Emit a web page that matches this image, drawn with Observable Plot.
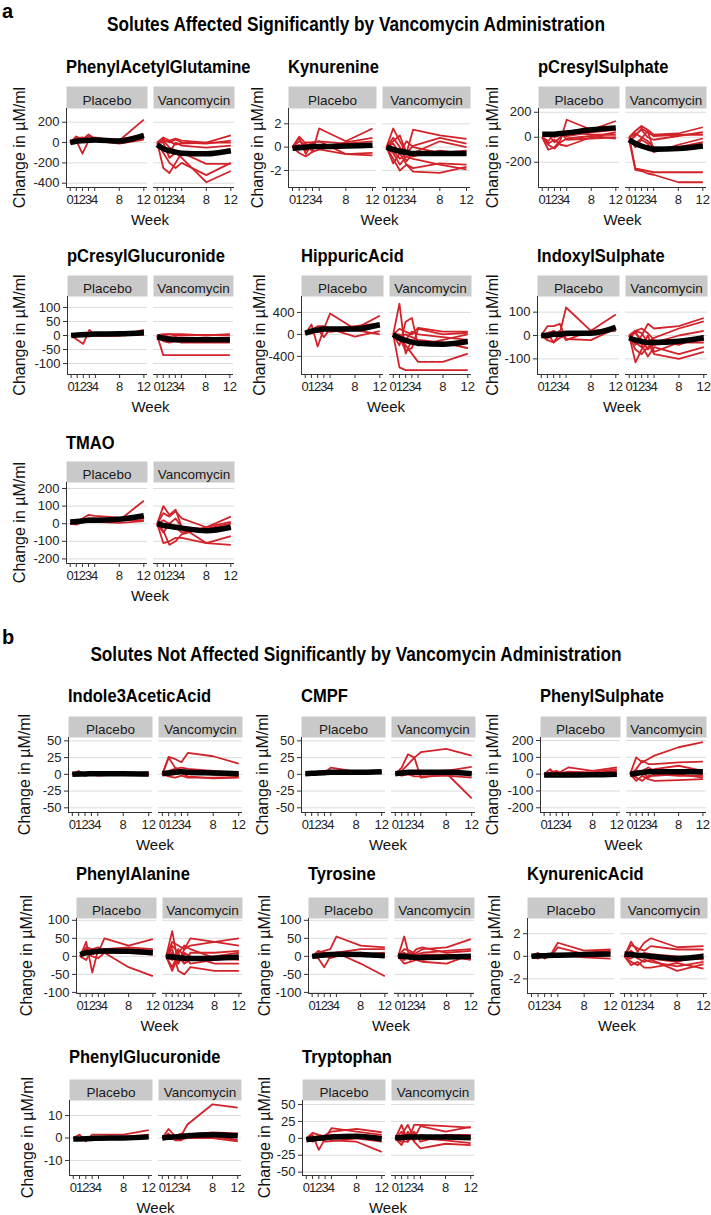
<!DOCTYPE html>
<html>
<head>
<meta charset="utf-8">
<script src="https://cdn.jsdelivr.net/npm/d3@7"></script>
<script src="https://cdn.jsdelivr.net/npm/@observablehq/plot@0.6"></script>
<style>
  body { margin: 0; background: #fff; }
  #page { position: relative; width: 711px; height: 1215px; overflow: hidden; background: #fff; }
  #page svg.panel { position: absolute; display: block; overflow: visible; }
  #overlay { position: absolute; left: 0; top: 0; pointer-events: none; }
</style>
</head>
<body>
<div id="page"></div>
<script>
// ---------------- DATA ----------------
const weeks = [0, 1, 2, 3, 4, 8, 12];
const groups = ["Placebo", "Vancomycin"];

const phenylAcetylGlutamine = {
  placebo: [
    [0, 60, 30, 80, 40, 20, 225],
    [0, 20, -110, 20, 50, 10, 40],
    [0, 40, 50, 30, 30, 0, 60],
    [0, 10, 20, 10, 20, -10, 30],
    [0, 30, 10, 60, 40, 30, 80]
  ],
  vancomycin: [
    [0, 50, 20, 40, 20, 0, 70],
    [-20, 30, 0, 30, 0, -10, 20],
    [0, -250, -300, -200, -100, -120, -80],
    [0, -100, -200, -250, -200, -320, -200],
    [0, 0, -150, -100, -150, -390, -280],
    [-10, 20, -50, -80, -100, -210, -210],
    [0, -50, -100, 0, -30, -50, -30],
    [0, 20, 10, -20, -10, 0, 0]
  ],
  meanPlacebo: [0, 12, 18, 22, 25, 15, 70],
  meanVancomycin: [-20, -60, -80, -95, -105, -110, -80]
};

const kynurenine = {
  placebo: [
    [0, 0.9, 0.3, -0.4, 1.6, 0.5, 1.6],
    [0, 0.5, 0.2, 0.3, -0.2, 0.4, 0.8],
    [0, -0.5, -0.8, -0.4, -0.2, -0.6, -0.7],
    [0, -0.2, 0.4, 0.4, 0.5, 0.3, 0.5],
    [0, 0.8, -0.6, 0.4, 0.5, -0.6, -0.5],
    [0, 0.2, -0.3, 0.3, 0, 0.3, 0]
  ],
  vancomycin: [
    [0, 1.6, 0.5, -0.5, 1.5, 1.0, 0.7],
    [0, 0.5, 1.0, -0.5, 0.1, 0.8, 0.3],
    [0, -1.0, -2.0, -1.5, -2.1, -2.2, -1.7],
    [0, -0.5, -1.5, -0.8, -1.0, -1.5, -1.9],
    [0, 0.8, 0.0, -1.2, -0.5, 0.5, 0.0],
    [0, -1.4, -0.5, -1.5, -1.8, -1.4, -1.5],
    [0, 0.3, -0.5, 0.5, 0.0, -0.5, -0.3],
    [0, -0.3, -1.0, -0.6, -0.8, -0.3, -0.6]
  ],
  meanPlacebo: [-0.1, -0.05, 0, 0.05, 0.05, 0.1, 0.15],
  meanVancomycin: [0, -0.2, -0.35, -0.45, -0.55, -0.55, -0.55]
};

const pCresylSulphate = {
  placebo: [
    [0, -100, -80, -20, 140, 60, 130],
    [0, -50, -20, -60, -70, 0, 40],
    [0, 20, -40, 0, 50, 20, 20],
    [0, -30, 30, 40, -20, -10, 0],
    [0, 20, 0, 20, 10, 40, 60],
    [0, -60, -90, -40, -10, 10, -10]
  ],
  vancomycin: [
    [-20, -260, -270, -290, -300, -360, -360],
    [0, -250, -260, -270, -280, -280, -280],
    [0, 50, 90, 60, 20, 30, 80],
    [0, 20, 60, 0, -20, 10, 40],
    [0, -50, -10, 50, -100, -80, -40],
    [0, -80, -20, -50, -120, -60, -10],
    [0, 30, 0, -30, -80, -100, -60],
    [-30, 10, 70, 40, 10, 20, 20]
  ],
  meanPlacebo: [25, 25, 25, 30, 35, 60, 75],
  meanVancomycin: [-20, -50, -70, -85, -95, -90, -70]
};

const pCresylGlucuronide = {
  placebo: [
    [0, -15, -30, 20, 0, 0, 20],
    [0, 5, 0, 5, 5, 5, 10],
    [0, 0, 5, 0, 0, 0, 5],
    [5, 5, 10, 5, 5, 8, 15],
    [0, 5, 0, 5, 3, 2, 3]
  ],
  vancomycin: [
    [0, -70, -70, -70, -70, -70, -70],
    [0, -20, -25, -20, -25, -25, -25],
    [0, 5, 5, 5, 5, 0, 5],
    [0, 0, -5, -10, -10, -10, -10],
    [-5, -10, -20, -15, -20, -15, -20],
    [0, 0, 5, 0, 0, 2, 0],
    [0, -15, -10, -5, -15, -20, -15]
  ],
  meanPlacebo: [0, 2, 3, 4, 5, 6, 10],
  meanVancomycin: [-5, -10, -13, -15, -15, -15, -15]
};

const hippuricAcid = {
  placebo: [
    [0, 180, -220, 100, 380, 100, 340],
    [0, 60, 100, -50, 100, 150, 200],
    [0, 80, 150, 150, 100, -40, 60],
    [0, 20, 50, 80, 50, 80, 0],
    [0, 50, 80, 100, 50, 100, 150]
  ],
  vancomycin: [
    [0, 560, -350, -100, -200, -150, -250],
    [0, -600, -650, -650, -650, -650, -650],
    [0, -200, 230, 300, -200, -100, 0],
    [0, -100, -200, -350, -500, -500, -350],
    [0, 100, 50, 0, 120, 50, 50],
    [0, 0, -100, 50, 0, -50, -100],
    [0, -50, -300, -250, 100, 0, 30],
    [0, -30, 0, -50, -100, -150, -250]
  ],
  meanPlacebo: [20, 60, 80, 100, 100, 100, 175],
  meanVancomycin: [0, -70, -110, -140, -160, -180, -130]
};

const indoxylSulphate = {
  placebo: [
    [0, 40, 40, 50, -15, -20, 30],
    [0, -20, -30, 10, 120, 20, 90],
    [0, 10, -30, -10, 0, 10, 20],
    [0, -10, 0, 20, -20, 20, 30],
    [0, 10, 20, 0, 10, 15, 25]
  ],
  vancomycin: [
    [0, -115, -60, -30, -80, -100, -70],
    [0, 20, -40, -90, -50, -80, -50],
    [0, -40, 0, 50, 30, 40, 75],
    [-20, 20, 10, -30, -10, 30, 60],
    [0, -60, -80, -50, -40, -20, -20],
    [0, 10, -20, -60, -30, 0, 20],
    [0, -30, -50, 0, -70, -30, -30],
    [0, 20, 30, 10, -20, -40, 0]
  ],
  meanPlacebo: [0, 0, 5, 5, 10, 10, 35],
  meanVancomycin: [-10, -20, -25, -30, -30, -25, -10]
};

const tmao = {
  placebo: [
    [0, -5, 10, 20, 10, 20, 130],
    [0, 10, 30, 50, 45, 35, 30],
    [10, 10, 20, 30, 30, 20, 20],
    [0, 0, 10, 10, 10, 5, 15]
  ],
  vancomycin: [
    [0, 100, 50, 80, -20, -110, -70],
    [0, -110, -100, -80, -80, -110, -120],
    [0, -40, -120, -100, -60, -20, 40],
    [0, 20, 0, 30, -20, -30, -20],
    [0, -50, 0, -20, -50, -30, 0],
    [0, 60, 40, 70, 30, -20, 10]
  ],
  meanPlacebo: [10, 12, 15, 20, 20, 25, 45],
  meanVancomycin: [0, -10, -15, -20, -25, -40, -20]
};

const indole3AceticAcid = {
  placebo: [
    [0, 5, -2, 4, 2, 1, 3],
    [0, -2, 2, 0, -2, 0, -2],
    [0, 1, 0, 2, 1, 2, 1],
    [0, 3, 1, -1, 0, -1, 0]
  ],
  vancomycin: [
    [0, 26, 23, 18, 32, 27, 16],
    [0, 25, 10, 5, 5, 0, -2],
    [0, 5, 8, 10, 8, 5, 2],
    [0, -3, -5, -2, -5, -5, -4],
    [0, 2, 3, 5, 3, 0, 0],
    [0, -1, 0, 2, -3, -6, -5]
  ],
  meanPlacebo: [0, 0.5, 0.5, 1, 1, 1, 0.5],
  meanVancomycin: [1, 2, 3, 4, 3, 2, 1]
};

const cmpf = {
  placebo: [
    [0, 1, 0, 2, 10, 4, 2],
    [0, 0, 1, 2, 3, 5, 5],
    [0, 2, 3, 2, 1, 2, 3]
  ],
  vancomycin: [
    [0, 5, 15, 25, 33, 38, 28],
    [0, 10, 30, 25, -5, 0, 0],
    [0, 2, 5, 3, 0, 2, -36],
    [0, 0, 3, 5, 2, 5, 11],
    [0, -2, 0, -3, -3, -2, -5],
    [0, 1, 2, 0, 3, 6, 2]
  ],
  meanPlacebo: [1, 1.5, 2, 2.5, 3, 3, 4],
  meanVancomycin: [1, 2, 3, 3, 3, 3, 1]
};

const phenylSulphate = {
  placebo: [
    [0, 30, -10, 20, 40, 20, 40],
    [0, -10, 15, -15, 0, 10, 30],
    [0, 5, 0, 10, 10, 5, 20],
    [-10, 10, 20, 5, 15, 10, 5]
  ],
  vancomycin: [
    [0, 100, 70, 90, 110, 160, 190],
    [0, 30, 80, 60, 60, 70, 75],
    [0, -40, -10, -30, -40, -35, -30],
    [0, 20, 0, 10, 30, 50, 20],
    [0, -20, -40, -10, -10, 0, -20],
    [0, 10, 20, 40, 20, 10, 0],
    [0, -10, 10, -20, 0, -10, -10]
  ],
  meanPlacebo: [-5, -5, -5, -5, -5, -4, 0],
  meanVancomycin: [0, 5, 10, 15, 15, 15, 15]
};

const phenylAlanine = {
  placebo: [
    [0, 40, -45, 20, 10, -30, -55],
    [0, 20, 10, 10, 50, 30, 48],
    [0, -10, 20, 25, 15, 20, 15],
    [0, 10, 0, -5, 10, 10, 5],
    [0, 25, 20, 15, 20, 25, 20]
  ],
  vancomycin: [
    [0, 70, -20, 20, 30, 40, 50],
    [0, 40, 30, 20, 50, 40, 30],
    [0, -30, 10, -20, -10, 0, 10],
    [0, 20, -40, -50, -30, -40, -40],
    [0, -10, 20, 0, -20, -10, 0],
    [0, 10, -20, 10, 0, -20, -20],
    [0, -40, 0, -20, 10, 10, 15],
    [0, 30, 10, 30, 20, -5, -10]
  ],
  meanPlacebo: [5, 10, 12, 14, 15, 14, 10],
  meanVancomycin: [0, -2, -4, -5, -6, -5, -2]
};

const tyrosine = {
  placebo: [
    [0, 10, 15, 20, 55, 30, 25],
    [0, -5, -30, 0, 10, -20, -55],
    [0, 15, 10, 5, 10, 20, 20],
    [0, 5, 0, 10, 5, 5, 10],
    [0, 0, 5, -5, 0, 10, 0]
  ],
  vancomycin: [
    [0, 55, -10, 10, 20, 25, 48],
    [0, 20, 15, 5, 10, 15, 20],
    [0, -20, -15, -10, -15, -20, 5],
    [0, 10, 0, 20, 25, 10, 15],
    [0, -10, 5, -5, -10, 0, -10],
    [0, 5, 10, 0, 5, 5, 0]
  ],
  meanPlacebo: [0, 2, 4, 5, 6, 5, 2],
  meanVancomycin: [0, 0, -2, -3, -3, -2, 0]
};

const kynurenicAcid = {
  placebo: [
    [0, 0.3, -0.2, 0.2, 1.2, 0.5, 0.6],
    [0, -0.2, 0.1, 0.0, 0.8, 0.2, 0.3],
    [0, 0.1, 0.0, -0.1, 0.0, 0.3, 0.5],
    [0, 0.2, -0.1, 0.2, 0.1, -0.1, -0.2]
  ],
  vancomycin: [
    [0, 1.3, 0.4, 1.2, 1.6, 0.8, 0.9],
    [0, 1.0, 0.7, 0.5, 0.9, 0.6, 0.6],
    [0, -0.5, -0.8, -0.3, -0.5, -0.9, -0.5],
    [0, 0.3, -0.2, -0.5, -0.3, -1.3, -0.7],
    [0, -0.2, 0.2, 0.0, -0.2, -0.5, 0.2],
    [0, 0.5, 0.0, 0.3, 0.2, 0.0, -0.3],
    [0, -0.8, -0.5, -1.0, -1.0, -0.6, -1.1]
  ],
  meanPlacebo: [0, 0.05, 0.05, 0.1, 0.1, 0.15, 0.2],
  meanVancomycin: [0.2, 0.15, 0.1, 0.05, 0, -0.2, 0]
};

const phenylGlucuronide = {
  placebo: [
    [0, 1.5, -1.5, 1.5, 1.5, 1.5, 3.5],
    [0, 0, 0, 0.5, 0.5, 0.5, 1.5],
    [0, -0.5, 0, 0, 0, 0, 0.5]
  ],
  vancomycin: [
    [0, 4, 1, 1, 6, 15, 13.5],
    [0, 2, -1, -1, 0.5, 2, 1],
    [0, 1, 1, 2, 1, 1, -1],
    [0, -0.5, 0, -0.5, 0, 0, -1.5],
    [0, 1, 0.5, 1, 1.5, 2.5, 2]
  ],
  meanPlacebo: [-0.5, -0.4, -0.3, -0.2, -0.1, 0, 0.5],
  meanVancomycin: [0, 0.3, 0.5, 0.7, 1, 1.5, 1]
};

const tryptophan = {
  placebo: [
    [0, 5, -17, 0, 15, 10, 5],
    [0, -5, 0, 5, 10, 14, 9],
    [0, 8, 5, 3, -3, -5, -20],
    [0, 2, 3, -5, -4, 0, -5],
    [0, -3, -2, 2, 5, 5, 3]
  ],
  vancomycin: [
    [0, 20, -5, 20, 20, 18, 16],
    [0, 5, 20, 0, 18, 10, 17],
    [0, -10, 10, -5, -15, -8, -10],
    [0, 10, 0, 10, -5, 5, 5],
    [0, -5, -5, 5, 0, -3, -7],
    [0, 2, 5, -3, 5, 0, 0]
  ],
  meanPlacebo: [-2, -1, 0, 1, 2, 3, -1],
  meanVancomycin: [1, 1, 2, 2, 2, 2, 1]
};

// panel titles, y domains and y tick labels
const panels = [
  {title: "PhenylAcetylGlutamine", data: phenylAcetylGlutamine, yDomain: [-442, 335], yTicks: [-400, -200, 0, 200]},
  {title: "Kynurenine", data: kynurenine, yDomain: [-3.46, 3.31], yTicks: [-2, 0, 2]},
  {title: "pCresylSulphate", data: pCresylSulphate, yDomain: [-402, 230], yTicks: [-200, 0, 200]},
  {title: "pCresylGlucuronide", data: pCresylGlucuronide, yDomain: [-139, 139], yTicks: [-100, -50, 0, 50, 100]},
  {title: "HippuricAcid", data: hippuricAcid, yDomain: [-730, 690], yTicks: [-400, 0, 400]},
  {title: "IndoxylSulphate", data: indoxylSulphate, yDomain: [-167, 167], yTicks: [-100, 0, 100]},
  {title: "TMAO", data: tmao, yDomain: [-226, 234], yTicks: [-200, -100, 0, 100, 200]},
  {title: "Indole3AceticAcid", data: indole3AceticAcid, yDomain: [-57, 55], yTicks: [-50, -25, 0, 25, 50]},
  {title: "CMPF", data: cmpf, yDomain: [-57, 55], yTicks: [-50, -25, 0, 25, 50]},
  {title: "PhenylSulphate", data: phenylSulphate, yDomain: [-228, 218], yTicks: [-200, -100, 0, 100, 200]},
  {title: "PhenylAlanine", data: phenylAlanine, yDomain: [-103, 105], yTicks: [-100, -50, 0, 50, 100]},
  {title: "Tyrosine", data: tyrosine, yDomain: [-103, 105], yTicks: [-100, -50, 0, 50, 100]},
  {title: "KynurenicAcid", data: kynurenicAcid, yDomain: [-3.3, 3.35], yTicks: [-2, 0, 2]},
  {title: "PhenylGlucuronide", data: phenylGlucuronide, yDomain: [-16.7, 16.7], yTicks: [-10, 0, 10]},
  {title: "Tryptophan", data: tryptophan, yDomain: [-55, 56], yTicks: [-50, -25, 0, 25, 50]}
];

const sectionTitles = [
  {tag: "a", title: "Solutes Affected Significantly by Vancomycin Administration"},
  {tag: "b", title: "Solutes Not Affected Significantly by Vancomycin Administration"}
];
const yLabel = "Change in \u00b5M/ml";
const xLabel = "Week";

// ---------------- LAYOUT ----------------
const rowLayout = {
  a1: {title: 73, stripTop: 86, plotTop: 108, plotBottom: 187},
  a2: {title: 262, stripTop: 275, plotTop: 296, plotBottom: 374},
  a3: {title: 449, stripTop: 461, plotTop: 482, plotBottom: 563},
  b1: {title: 702, stripTop: 716, plotTop: 737, plotBottom: 812},
  b2: {title: 880, stripTop: 897, plotTop: 918, plotBottom: 993},
  b3: {title: 1063, stripTop: 1079, plotTop: 1100, plotBottom: 1175}
};
const panelLayout = [
  {row: "a1", left: 66, right: 234, ylab: 19},
  {row: "a1", left: 288, right: 471, ylab: 257},
  {row: "a1", left: 538, right: 707, ylab: 492},
  {row: "a2", left: 67, right: 234, ylab: 19},
  {row: "a2", left: 301, right: 471, ylab: 259},
  {row: "a2", left: 537, right: 707, ylab: 492},
  {row: "a3", left: 66, right: 234, ylab: 19},
  {row: "b1", left: 68, right: 242, ylab: 24},
  {row: "b1", left: 301, right: 475, ylab: 262},
  {row: "b1", left: 540, right: 707, ylab: 492},
  {row: "b2", left: 76, right: 243, ylab: 26},
  {row: "b2", left: 308, right: 474, ylab: 264},
  {row: "b2", left: 527, right: 707, ylab: 494},
  {row: "b3", left: 69, right: 242, ylab: 27},
  {row: "b3", left: 302, right: 474, ylab: 264}
];

const FONT = '"Liberation Sans", Arial, Helvetica, sans-serif';
const RED = "#d2232a";
const TICK_FS = 13;
const STRIP_FS = 13.5;
const page = document.getElementById("page");

function drawPanel(p, L) {
  const R = rowLayout[L.row];
  const ML = 40, MR = 2, MB = 26;
  const stripH = R.plotTop - R.stripTop;
  const plotH = R.plotBottom - R.plotTop;
  const W = L.right - L.left;
  const xDom = [-0.6, 12.6];

  const indiv = [];
  const means = [];
  groups.forEach((g) => {
    const series = g === "Placebo" ? p.data.placebo : p.data.vancomycin;
    series.forEach((vals, i) => vals.forEach((v, j) => indiv.push({g, id: g + i, week: weeks[j], value: v})));
    const m = g === "Placebo" ? p.data.meanPlacebo : p.data.meanVancomycin;
    m.forEach((v, j) => means.push({g, week: weeks[j], value: v}));
  });

  const gap = 6;
  const pad = 2 * gap / (W + gap);

  const chart = Plot.plot({
    width: ML + W + MR,
    height: stripH + plotH + MB,
    marginLeft: ML, marginRight: MR, marginTop: stripH, marginBottom: MB,
    x: {domain: xDom, label: null},
    y: {domain: p.yDomain, label: null},
    fx: {domain: groups, paddingInner: pad, paddingOuter: 0, label: null},
    style: {fontFamily: FONT, fontSize: TICK_FS + "px", color: "#333", background: "transparent", overflow: "visible"},
    marks: [
      Plot.frame({fill: "#c9c9c9", stroke: "none", insetTop: -stripH, insetBottom: plotH}),
      Plot.axisFx({anchor: "top", tickSize: 0, tickPadding: 4, label: null, fill: "#1a1a1a", fontSize: STRIP_FS, fontFamily: FONT}),
      Plot.gridY(p.yTicks, {stroke: "#dcdcdc", strokeOpacity: 1, strokeWidth: 1}),
      Plot.ruleY([p.yDomain[0]], {stroke: "#333", strokeWidth: 1}),
      Plot.ruleX([xDom[0]], {fx: ["Placebo"], stroke: "#333", strokeWidth: 1}),
      Plot.axisY(p.yTicks, {tickSize: 4, tickPadding: 3, label: null, tickFormat: (d) => String(d), fill: "#222", fontSize: TICK_FS, fontFamily: FONT}),
      Plot.axisX(weeks, {tickSize: 4, tickPadding: 3, label: null, tickFormat: (d) => String(d), fill: "#222", fontSize: TICK_FS, fontFamily: FONT}),
      Plot.line(indiv, {x: "week", y: "value", z: "id", fx: "g", stroke: RED, strokeWidth: 1.8, strokeLinecap: "butt"}),
      Plot.line(means, {x: "week", y: "value", fx: "g", stroke: "#000", strokeWidth: 5.5, curve: "monotone-x", strokeLinecap: "butt"})
    ]
  });
  chart.classList.add("panel");
  chart.style.left = (L.left - ML) + "px";
  chart.style.top = R.stripTop + "px";
  page.appendChild(chart);
}

panels.forEach((p, i) => drawPanel(p, panelLayout[i]));

// overlay text
const overlay = d3.select(page).append("svg").attr("id", "overlay").attr("width", 711).attr("height", 1215);
const tagPos = [{x: 2, y: 18, titleY: 31}, {x: 2, y: 644, titleY: 661}];
sectionTitles.forEach((s, i) => {
  overlay.append("text").attr("x", tagPos[i].x).attr("y", tagPos[i].y)
    .attr("font-family", FONT).attr("font-weight", "bold").attr("font-size", 20).text(s.tag);
  overlay.append("text").attr("transform", `translate(356,${tagPos[i].titleY}) scale(0.82,1)`)
    .attr("text-anchor", "middle")
    .attr("font-family", FONT).attr("font-weight", "bold").attr("font-size", 21).text(s.title);
});
panels.forEach((p, i) => {
  const L = panelLayout[i], R = rowLayout[L.row];
  overlay.append("text").attr("transform", `translate(${L.left},${R.title}) scale(0.87,1)`)
    .attr("font-family", FONT).attr("font-weight", "bold").attr("font-size", 19).text(p.title);
  const cy = (R.plotTop + R.plotBottom) / 2;
  overlay.append("text").attr("transform", `translate(${L.ylab},${cy}) rotate(-90)`)
    .attr("text-anchor", "middle").attr("dy", "0.35em")
    .attr("font-family", FONT).attr("font-size", 16).attr("fill", "#111").text(yLabel);
  overlay.append("text").attr("x", (L.left + L.right) / 2).attr("y", R.plotBottom + 38)
    .attr("text-anchor", "middle").attr("font-family", FONT).attr("font-size", 15).attr("fill", "#111").text(xLabel);
});
</script>
</body>
</html>
